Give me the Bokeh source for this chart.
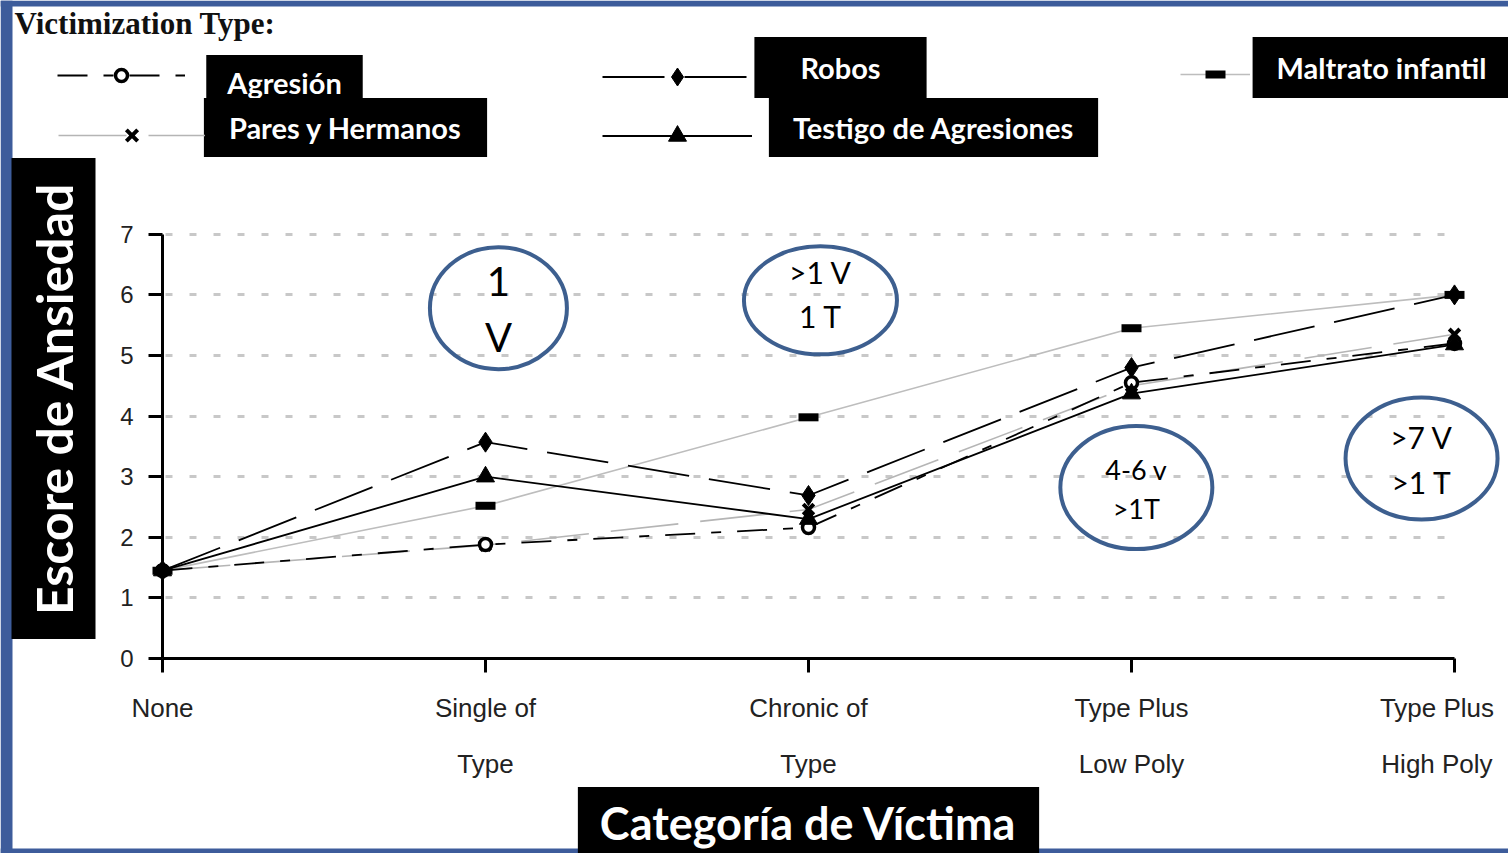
import math
from bokeh.plotting import figure
from bokeh.models import (Range1d, FixedTicker, Legend, LegendItem, Label,
                          ColumnDataSource, BoxAnnotation)
from bokeh.core.properties import value
from bokeh.embed import file_html
from bokeh.resources import INLINE

# ---------------- data ----------------
CATEGORIES = ["None", "Single of\nType", "Chronic of\nType",
              "Type Plus\nLow Poly", "Type Plus  \nHigh Poly  "]
X = [0, 1, 2, 3, 4]
Y_TICKS = [0, 1, 2, 3, 4, 5, 6, 7]

AGRESION = [1.45, 1.88, 2.16, 4.55, 5.2]
ROBOS = [1.45, 3.57, 2.69, 4.8, 6.0]
MALTRATO = [1.45, 2.52, 3.98, 5.45, 6.0]
PARES = [1.45, 1.87, 2.46, 4.5, 5.35]
TESTIGO = [1.45, 3.0, 2.3, 4.37, 5.18]

SERIES_NAMES = ["Agresión", "Robos", "Maltrato infantil",
                "Pares y Hermanos", "Testigo de Agresiones"]

# annotation bubbles (data coords of centres) and their texts
ANN_X = [1.04, 2.037, 3.015, 3.898]
ANN_Y = [5.78, 5.91, 2.82, 3.30]
ANN_L1 = ["1", ">1 V", "4-6 v", ">7 V"]
ANN_L2 = ["V", "1 T", ">1T", ">1 T"]

# ---------------- layout (canvas pixels, top-left origin) ----------------
W, H = 1508, 853
X0, Y0, PXX, PXY = 162, 658, 323.0, 60.6   # pixel of value 0 and px per unit


def fx(px):
    return px


def fy(py):
    return H - py


p = figure(width=W, height=H, output_backend="svg", toolbar_location=None,
           x_range=Range1d(-X0 / PXX, (W - X0) / PXX),
           y_range=Range1d(-(H - Y0) / PXY, Y0 / PXY),
           min_border=0)
p.title.visible = False
p.outline_line_color = None
p.background_fill_color = "white"
p.border_fill_color = "white"

# blue slide frame
for kw in (dict(left=0, right=12, bottom=0, top=H),
           dict(left=0, right=W, bottom=H - 6, top=H),
           dict(left=0, right=W, bottom=0, top=5)):
    p.add_layout(BoxAnnotation(left_units="screen", right_units="screen",
                               top_units="screen", bottom_units="screen",
                               fill_color="#3d5c9b", fill_alpha=1,
                               line_color=None, **kw))

# axes
for ax in (p.xaxis, p.yaxis):
    ax.fixed_location = 0
    ax.axis_line_width = 3
    ax.axis_line_color = "black"
    ax.major_tick_line_width = 3
    ax.major_tick_line_color = "black"
    ax.major_tick_in = 0
    ax.major_tick_out = 14
    ax.minor_tick_line_color = None
    ax.major_label_text_font = "Liberation Sans"
    ax.major_label_text_color = "#222222"

p.xaxis.ticker = FixedTicker(ticks=X)
p.xaxis.major_label_overrides = {x: c for x, c in zip(X, CATEGORIES)}
p.xaxis.bounds = (0, 4)
p.xaxis.major_label_text_font_size = "26px"
p.xaxis.major_label_text_line_height = 1.87
p.xaxis.major_label_standoff = 20

p.yaxis.ticker = FixedTicker(ticks=Y_TICKS)
p.yaxis.bounds = (0, 7)
p.yaxis.major_label_text_font_size = "24px"
p.yaxis.major_label_standoff = 15

p.xgrid.visible = False
p.ygrid.ticker = FixedTicker(ticks=Y_TICKS[1:])
p.ygrid.grid_line_color = "#c8c8c8"
p.ygrid.grid_line_width = 3
p.ygrid.grid_line_dash = "7 17"
p.ygrid.cross_bounds = (0.01, 4.02)

# ---------------- series ----------------
styles = {
    "Maltrato infantil": dict(color="#bdbdbd", width=1.6, dash="solid",
                              marker="dash", size=20, lw=8, fill="black"),
    "Pares y Hermanos": dict(color="#b5b5b5", width=1.6, dash="68 22",
                             marker="x", size=15, lw=4, fill="black"),
    "Agresión": dict(color="black", width=1.8, dash="30 16 10 16",
                     marker="circle", size=12, lw=3.5, fill="white"),
    "Robos": dict(color="black", width=1.8, dash="62 20",
                  marker="diamond", size=20, lw=1, fill="black"),
    "Testigo de Agresiones": dict(color="black", width=1.8, dash="solid",
                                  marker="triangle", size=18, lw=1, fill="black"),
}
values = {"Agresión": AGRESION, "Robos": ROBOS, "Maltrato infantil": MALTRATO,
          "Pares y Hermanos": PARES, "Testigo de Agresiones": TESTIGO}

draw_order = ["Maltrato infantil", "Pares y Hermanos", "Agresión",
              "Testigo de Agresiones", "Robos"]
line_r, mark_r = {}, {}
for name in draw_order:
    s = styles[name]
    line_r[name] = p.line(X, values[name], line_color=s["color"],
                          line_width=s["width"], line_dash=s["dash"])
for name in draw_order:
    s = styles[name]
    mark_r[name] = p.scatter(X, values[name], marker=s["marker"], size=s["size"],
                             fill_color=s["fill"], line_color="black",
                             line_width=s["lw"])

# ---------------- legend glyph samples ----------------
# (left x, centre y, glyph width, glyph height) in canvas pixels
leg_layout = {
    "Agresión": (57, 75, 128, 30),
    "Pares y Hermanos": (58, 135, 147, 40),
    "Robos": (602, 76, 150, 45),
    "Testigo de Agresiones": (602, 135, 150, 45),
    "Maltrato infantil": (1180, 74, 70, 50),
}
for name in SERIES_NAMES:
    lx, cy, gw, gh = leg_layout[name]
    leg = Legend(items=[LegendItem(label=value(""),
                                   renderers=[line_r[name], mark_r[name]])],
                 location=(fx(lx), fy(cy + gh / 2)),
                 glyph_width=gw, glyph_height=gh, padding=0, margin=0,
                 spacing=0, label_standoff=0, label_width=0, label_height=0,
                 background_fill_alpha=0, border_line_alpha=0)
    p.add_layout(leg)

# legend labels in black boxes:
# (box centre x, box centre y, padding left, right, top, bottom)
lab_layout = {
    "Agresión": (284, 82, (21, 21, 10, 10)),
    "Robos": (840, 67, (46, 46, 13, 13)),
    "Maltrato infantil": (1381, 67, (24, 24, 13, 13)),
    "Pares y Hermanos": (345, 127, (25, 25, 12, 12)),
    "Testigo de Agresiones": (933, 127, (24, 24, 12, 12)),
}
for name in ["Agresión", "Robos", "Maltrato infantil", "Pares y Hermanos",
             "Testigo de Agresiones"]:
    cx, cy, pad = lab_layout[name]
    p.add_layout(Label(x=fx(cx), y=fy(cy), x_units="screen", y_units="screen",
                       text=name, text_font="Lato", text_font_style="bold",
                       text_font_size="29px", text_color="white",
                       text_align="center", text_baseline="middle",
                       background_fill_color="black", padding=pad))

p.add_layout(Label(x=fx(14), y=fy(23), x_units="screen", y_units="screen",
                   text="Victimization Type:", text_font="Liberation Serif",
                   text_font_style="bold", text_font_size="31px",
                   text_color="#111111", text_align="left",
                   text_baseline="middle"))

# axis titles in black boxes
p.add_layout(Label(x=fx(53), y=fy(398), x_units="screen", y_units="screen",
                   text="Escore de Ansiedad", angle=math.pi / 2,
                   text_font="Lato", text_font_style="bold",
                   text_font_size="50px", text_color="white",
                   text_align="center", text_baseline="middle",
                   background_fill_color="black", padding=(24, 24, 12, 12)))
p.add_layout(Label(x=fx(808), y=fy(833), x_units="screen", y_units="screen",
                   text="Categoría de Víctima",
                   text_font="Lato", text_font_style="bold",
                   text_font_size="45px", text_color="white",
                   text_align="center", text_baseline="middle",
                   background_fill_color="black", padding=(22, 22, 9, 30)))

# ---------------- annotation bubbles ----------------
p.ellipse(x=ANN_X, y=ANN_Y, width=[137, 153, 152, 152],
          height=[122, 108, 123, 122], width_units="screen",
          height_units="screen", fill_color=None, line_color="#3d5f8f",
          line_width=4)

ann_src = ColumnDataSource(dict(
    x=ANN_X + ANN_X,
    y=ANN_Y + ANN_Y,
    text=ANN_L1 + ANN_L2,
    off=[-27, -28, -18, -22, 29, 16, 21, 23],
    size=["40px", "30px", "27px", "30px", "40px", "30px", "27px", "30px"],
))
p.text(x="x", y="y", text="text", y_offset="off", text_font_size="size",
       text_font=value("Lato"), text_align="center", text_baseline="middle",
       text_color="black", source=ann_src)

open("out.html", "w").write(file_html(p, INLINE))
